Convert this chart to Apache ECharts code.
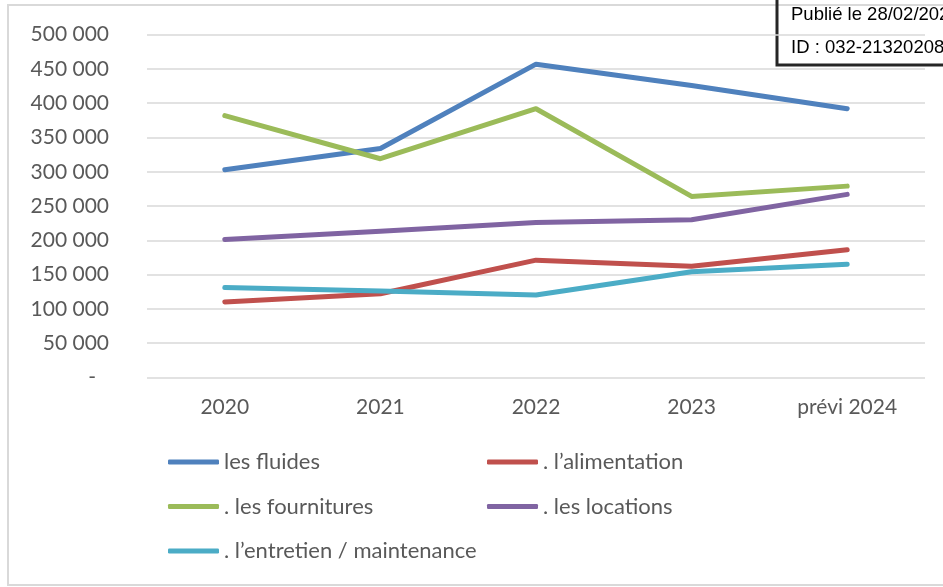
<!DOCTYPE html>
<html>
<head>
<meta charset="utf-8">
<script src="https://cdn.jsdelivr.net/npm/echarts@6/dist/echarts.min.js"></script>
<style>
  html, body { margin: 0; padding: 0; background: #fff; }
  #chart { width: 943px; height: 587px; }
</style>
</head>
<body>
<div id="chart"></div>
<script>
// années
const categories = ['2020', '2021', '2022', '2023', 'prévi 2024']
// montants par poste
const fluides = [303000, 334000, 457000, 426000, 392000]
const alimentation = [110000, 122000, 171000, 162000, 186000]
const fournitures = [382000, 319000, 392000, 264000, 279000]
const locations = [201000, 213000, 226000, 230000, 267000]
const entretien = [131000, 126000, 120000, 154000, 165000]
// axe Y
const yMin = 0
const yMax = 500000
const yStep = 50000
// cartouche en haut à droite
const stampLines = ['Publié le 28/02/2024', 'ID : 032-213202080-20240226']

const names = ['les fluides', '. l\u2019alimentation', '. les fournitures', '. les locations', '. l\u2019entretien / maintenance']
const colors = ['#4F81BD', '#C0504D', '#9BBB59', '#8064A2', '#4BACC6']
const seriesData = [fluides, alimentation, fournitures, locations, entretien]

const font = 'Lato, "Open Sans", sans-serif'
const fmt = v => (v === 0 ? '{d|-}' : String(v).replace(/\B(?=(\d{3})+(?!\d))/g, ' '))

const chart = echarts.init(document.getElementById('chart'))

const legendBase = {
  orient: 'vertical',
  top: 450,
  padding: 0,
  itemWidth: 51,
  itemHeight: 5,
  itemGap: 20.5,
  icon: 'roundRect',
  selectedMode: false,
  textStyle: { color: '#595959', fontSize: 22, fontFamily: font, lineHeight: 24 },
}

chart.setOption({
  animation: false,
  color: colors,
  grid: { left: 147, right: 18, top: 34.7, bottom: 209.7 },
  xAxis: {
    type: 'category',
    data: categories,
    boundaryGap: true,
    axisLine: { show: false },
    axisTick: { show: false },
    axisLabel: { color: '#595959', fontSize: 21, fontFamily: font, margin: 19 },
  },
  yAxis: {
    type: 'value',
    min: yMin,
    max: yMax,
    interval: yStep,
    axisLine: { show: false },
    axisTick: { show: false },
    splitLine: { lineStyle: { color: '#d9d9d9', width: 1.5 } },
    axisLabel: {
      color: '#595959',
      fontSize: 21,
      fontFamily: font,
      margin: 38,
      formatter: fmt,
      rich: { d: { color: '#595959', fontSize: 21, fontFamily: font, padding: [0, 13, 0, 0] } },
    },
  },
  legend: [
    Object.assign({}, legendBase, { left: 168, data: [names[0], names[2], names[4]] }),
    Object.assign({}, legendBase, { left: 487, data: [names[1], names[3]] }),
  ],
  series: names.map((n, i) => ({
    name: n,
    type: 'line',
    data: seriesData[i],
    symbol: 'none',
    lineStyle: { width: 5, cap: 'round', join: 'round' },
  })),
  graphic: [
    // bordure du graphique
    {
      type: 'rect',
      shape: { x: 8, y: 5, width: 960, height: 580 },
      style: { fill: 'none', stroke: '#d9d9d9', lineWidth: 2 },
      silent: true,
      z: -1,
    },
    // cartouche
    {
      type: 'rect',
      shape: { x: 777, y: -10, width: 200, height: 75 },
      style: { fill: 'none', stroke: '#262626', lineWidth: 3 },
      silent: true,
    },
    {
      type: 'text',
      left: 791,
      top: 5,
      style: { text: stampLines[0], fill: '#000', fontSize: 18.5, fontFamily: '"Liberation Sans", Arial, sans-serif' },
    },
    {
      type: 'text',
      left: 791,
      top: 38,
      style: { text: stampLines[1], fill: '#000', fontSize: 18.5, fontFamily: '"Liberation Sans", Arial, sans-serif' },
    },
  ],
})
</script>
</body>
</html>
